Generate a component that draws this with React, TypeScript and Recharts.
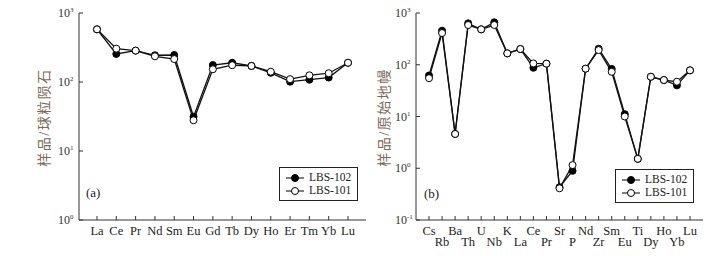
import { LineChart, Line, XAxis, YAxis, Legend } from 'recharts';

// (a) chondrite-normalized REE
const reeElements = ['La', 'Ce', 'Pr', 'Nd', 'Sm', 'Eu', 'Gd', 'Tb', 'Dy', 'Ho', 'Er', 'Tm', 'Yb', 'Lu'];
const ree102 = [580, 255, 285, 244, 246, 31.4, 176, 190, 171, 136, 101, 108, 116, 190];
const ree101 = [580, 304, 285, 236, 215, 27.9, 153, 175, 171, 141, 110, 125, 134, 190];

// (b) primitive-mantle-normalized spider diagram
const spiderElements = ['Cs', 'Rb', 'Ba', 'Th', 'U', 'Nb', 'K', 'La', 'Ce', 'Pr', 'Sr', 'P', 'Nd', 'Zr', 'Sm', 'Eu', 'Ti', 'Dy', 'Ho', 'Yb', 'Lu'];
const spider102 = [62, 455, 4.6, 631, 483, 660, 166, 201, 87.5, 105, 0.43, 0.89, 84, 204, 83, 11.1, 1.52, 58.6, 50.6, 40, 78];
const spider101 = [55, 410, 4.6, 586, 483, 586, 166, 201, 106, 105, 0.41, 1.15, 84, 192, 73, 10.0, 1.52, 58.6, 50.6, 47, 78];

const reeTicks = [1, 10, 100, 1000];
const spiderTicks = [0.1, 1, 10, 100, 1000];

const series = [
  { key: 's102', name: 'LBS-102', fill: '#000' },
  { key: 's101', name: 'LBS-101', fill: '#fff' },
];

const SERIF = "'Liberation Serif', 'Times New Roman', serif";
const TITLE_FONT = "'Liberation Serif', 'Noto Sans CJK SC', serif";
const AXIS = '#333';

const reeData = reeElements.map((el, i) => ({ el, s102: ree102[i], s101: ree101[i] }));
const spiderData = spiderElements.map((el, i) => ({ el, s102: spider102[i], s101: spider101[i] }));

const YTick = (props: any) => {
  const { x, y, payload } = props;
  const exp = Math.round(Math.log10(payload.value));
  return (
    <g>
      <line x1={x} x2={x + 4} y1={y} y2={y} stroke={AXIS} />
      <text x={x - 9} y={y + 4} textAnchor="end" fontFamily={SERIF} fontSize={12} fill="#333">10</text>
      <text x={x - 9} y={y - 1} textAnchor="start" fontFamily={SERIF} fontSize={7} fill="#333">{exp}</text>
    </g>
  );
};

const makeXTick = (twoRows: boolean) => (props: any) => {
  const { x, y, payload, index } = props;
  const low = twoRows && index % 2 === 1;
  return (
    <g>
      <line x1={x} x2={x} y1={y} y2={y - 4} stroke={AXIS} />
      <text x={x} y={y + (low ? 26 : 15)} textAnchor="middle" fontFamily={SERIF} fontSize={12.5} fill="#222">
        {payload.value}
      </text>
    </g>
  );
};

const makeTitle = (title: string, off: number) => (props: any) => {
  const vb = props.viewBox || { x: 0, y: 0, width: 0, height: 0 };
  const x = vb.x + off;
  const y = vb.y + vb.height / 2 + 1;
  return (
    <text
      x={x}
      y={y}
      transform={`rotate(-90 ${x} ${y})`}
      textAnchor="middle"
      dominantBaseline="central"
      fontFamily={TITLE_FONT}
      fontSize={14}
      letterSpacing={1.5}
      fill="#7d6b58"
    >
      {title}
    </text>
  );
};

const legendBox = () => (
  <div style={{ border: '1px solid #222', background: '#fff', padding: '3px 6px 3px 5px', fontFamily: SERIF, fontSize: 11.5, lineHeight: '13px', color: '#222' }}>
    {series.map((s) => (
      <div key={s.key} style={{ display: 'flex', alignItems: 'center', whiteSpace: 'nowrap' }}>
        <svg width={20} height={10} style={{ marginRight: 4 }}>
          <line x1={1} x2={19} y1={5} y2={5} stroke="#000" />
          <circle cx={10} cy={5} r={3.5} fill={s.fill} stroke="#000" />
        </svg>
        {s.name}
      </div>
    ))}
  </div>
);

type PanelProps = {
  data: any[];
  ticks: number[];
  domain: [number, number];
  width: number;
  marginLeft: number;
  marginRight: number;
  padX: number;
  twoRows: boolean;
  title: string;
  titleOff: number;
  legendPos: { left: number; top: number };
};

const Panel = ({ data, ticks, domain, width, marginLeft, marginRight, padX, twoRows, title, titleOff, legendPos }: PanelProps) => (
  <LineChart width={width} height={256} data={data} margin={{ top: 13, left: marginLeft, right: marginRight, bottom: 6 }}>
    <XAxis
      dataKey="el"
      interval={0}
      padding={{ left: padX, right: padX }}
      stroke={AXIS}
      tickLine={false}
      tickSize={0}
      tickMargin={0}
      height={30}
      tick={makeXTick(twoRows)}
    />
    <XAxis xAxisId="top" dataKey="el" orientation="top" height={0} stroke={AXIS} tick={false} tickLine={false} padding={{ left: padX, right: padX }} />
    <YAxis
      scale="log"
      domain={domain}
      ticks={ticks}
      allowDataOverflow
      stroke={AXIS}
      tickLine={false}
      tickSize={0}
      tickMargin={0}
      width={40}
      tick={YTick}
      label={makeTitle(title, titleOff)}
    />
    <YAxis yAxisId="right" orientation="right" scale="log" domain={domain} width={0} stroke={AXIS} tick={false} tickLine={false} />
    <Legend
      layout="horizontal"
      verticalAlign="middle"
      align="center"
      content={legendBox}
      wrapperStyle={{ left: legendPos.left, top: legendPos.top, width: 'auto', bottom: 'auto' }}
    />
    {series.map((s) => (
      <Line
        key={s.key}
        dataKey={s.key}
        name={s.name}
        stroke="#111"
        strokeWidth={1.3}
        dot={{ r: 3.5, fill: s.fill, stroke: '#000', strokeWidth: 1 }}
        isAnimationActive={false}
      />
    ))}
  </LineChart>
);

export default function App() {
  return (
    <div style={{ position: 'fixed', left: 0, top: 0, width: 726, height: 256, background: '#fff' }}>
      <div style={{ position: 'absolute', left: 0, top: 0 }}>
        <Panel
          data={reeData}
          ticks={reeTicks}
          domain={[1, 1000]}
          width={370}
          marginLeft={39}
          marginRight={4}
          padX={18}
          twoRows={false}
          title="样品/球粒陨石"
          titleOff={5}
          legendPos={{ left: 279, top: 167 }}
        />
      </div>
      <div style={{ position: 'absolute', left: 370, top: 0 }}>
        <Panel
          data={spiderData}
          ticks={spiderTicks}
          domain={[0.1, 1000]}
          width={356}
          marginLeft={6}
          marginRight={23}
          padX={13}
          twoRows
          title="样品/原始地幔"
          titleOff={8}
          legendPos={{ left: 245, top: 169 }}
        />
      </div>
      <div style={{ position: 'absolute', left: 86, top: 185, fontFamily: SERIF, fontSize: 13, color: '#222' }}>(a)</div>
      <div style={{ position: 'absolute', left: 424, top: 186, fontFamily: SERIF, fontSize: 13, color: '#222' }}>(b)</div>
    </div>
  );
}
